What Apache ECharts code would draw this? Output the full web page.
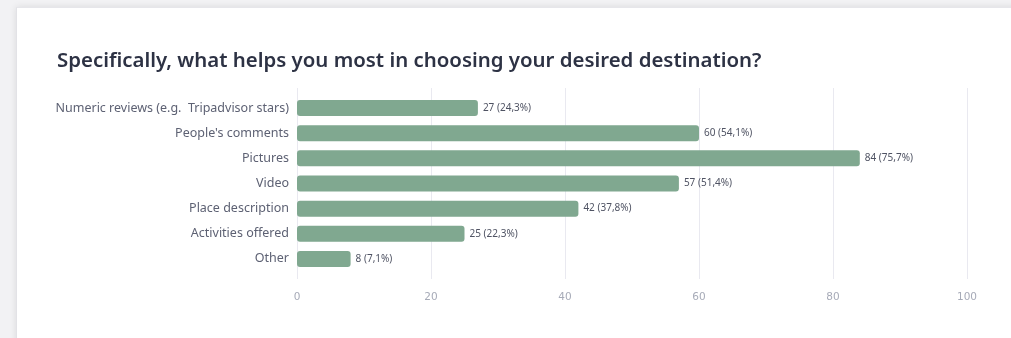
<!DOCTYPE html>
<html>
<head>
<meta charset="utf-8">
<script src="https://cdn.jsdelivr.net/npm/echarts@6/dist/echarts.min.js"></script>
<style>
  html, body { margin: 0; padding: 0; width: 1011px; height: 338px; overflow: hidden; background: #f2f2f4; }
  #card { position: absolute; left: 16px; top: 7px; width: 1100px; height: 400px; background: #ffffff;
          box-shadow: 0 0 7px rgba(0,0,0,0.10); border-left: 1px solid #e2e2e6; border-top: 1px solid #e6e6ea; }
  #chart { position: absolute; left: 0; top: 0; width: 1011px; height: 338px; }
</style>
</head>
<body>
<div id="card"></div>
<div id="chart"></div>
<script>
// Survey answers: how many respondents chose each source of inspiration
const categories = [
  'Numeric reviews (e.g.  Tripadvisor stars)',
  "People's comments",
  'Pictures',
  'Video',
  'Place description',
  'Activities offered',
  'Other'
];
const counts = [27, 60, 84, 57, 42, 25, 8];
const shares = ['24,3%', '54,1%', '75,7%', '51,4%', '37,8%', '22,3%', '7,1%'];
const axisTicks = [0, 20, 40, 60, 80, 100];

const barColor = '#80a890';
const chart = echarts.init(document.getElementById('chart'), null, { renderer: 'canvas' });

chart.setOption({
  animation: false,
  title: {
    text: 'Specifically, what helps you most in choosing your desired destination?',
    left: 52, top: 46,
    textStyle: { fontFamily: 'Noto Sans', fontSize: 20.4, fontWeight: 600, color: '#2d3244' }
  },
  grid: [
    // frame for the value axis and its vertical split lines
    { left: 297, right: 44, top: 88, height: 191, containLabel: false },
    // frame for the bars themselves
    { left: 297, right: 44, top: 95.5, height: 176, containLabel: false }
  ],
  xAxis: [
    {
      gridIndex: 0, type: 'value', min: axisTicks[0], max: axisTicks[axisTicks.length - 1], interval: 20,
      axisLine: { show: false }, axisTick: { show: false },
      splitLine: { lineStyle: { color: '#e9e9f0', width: 1 } },
      axisLabel: { color: '#a7abb8', fontFamily: 'DejaVu Sans', fontSize: 10.5, margin: 13 }
    },
    {
      gridIndex: 1, type: 'value', min: 0, max: 100, show: false
    }
  ],
  yAxis: [
    { gridIndex: 0, type: 'category', data: categories, inverse: true, show: false },
    {
      gridIndex: 1, type: 'category', data: categories, inverse: true,
      axisLine: { show: false }, axisTick: { show: false },
      axisLabel: { color: '#5d6173', fontFamily: 'Noto Sans', fontSize: 12.5, margin: 8 }
    }
  ],
  series: [{
    type: 'bar',
    xAxisIndex: 1, yAxisIndex: 1,
    data: counts,
    barWidth: 16,
    itemStyle: { color: barColor, borderRadius: 3 },
    label: {
      show: true, position: 'right', distance: 5,
      color: '#4f5363', fontFamily: 'Noto Sans', fontSize: 10,
      formatter: p => counts[p.dataIndex] + ' (' + shares[p.dataIndex] + ')'
    }
  }]
});
</script>
</body>
</html>
